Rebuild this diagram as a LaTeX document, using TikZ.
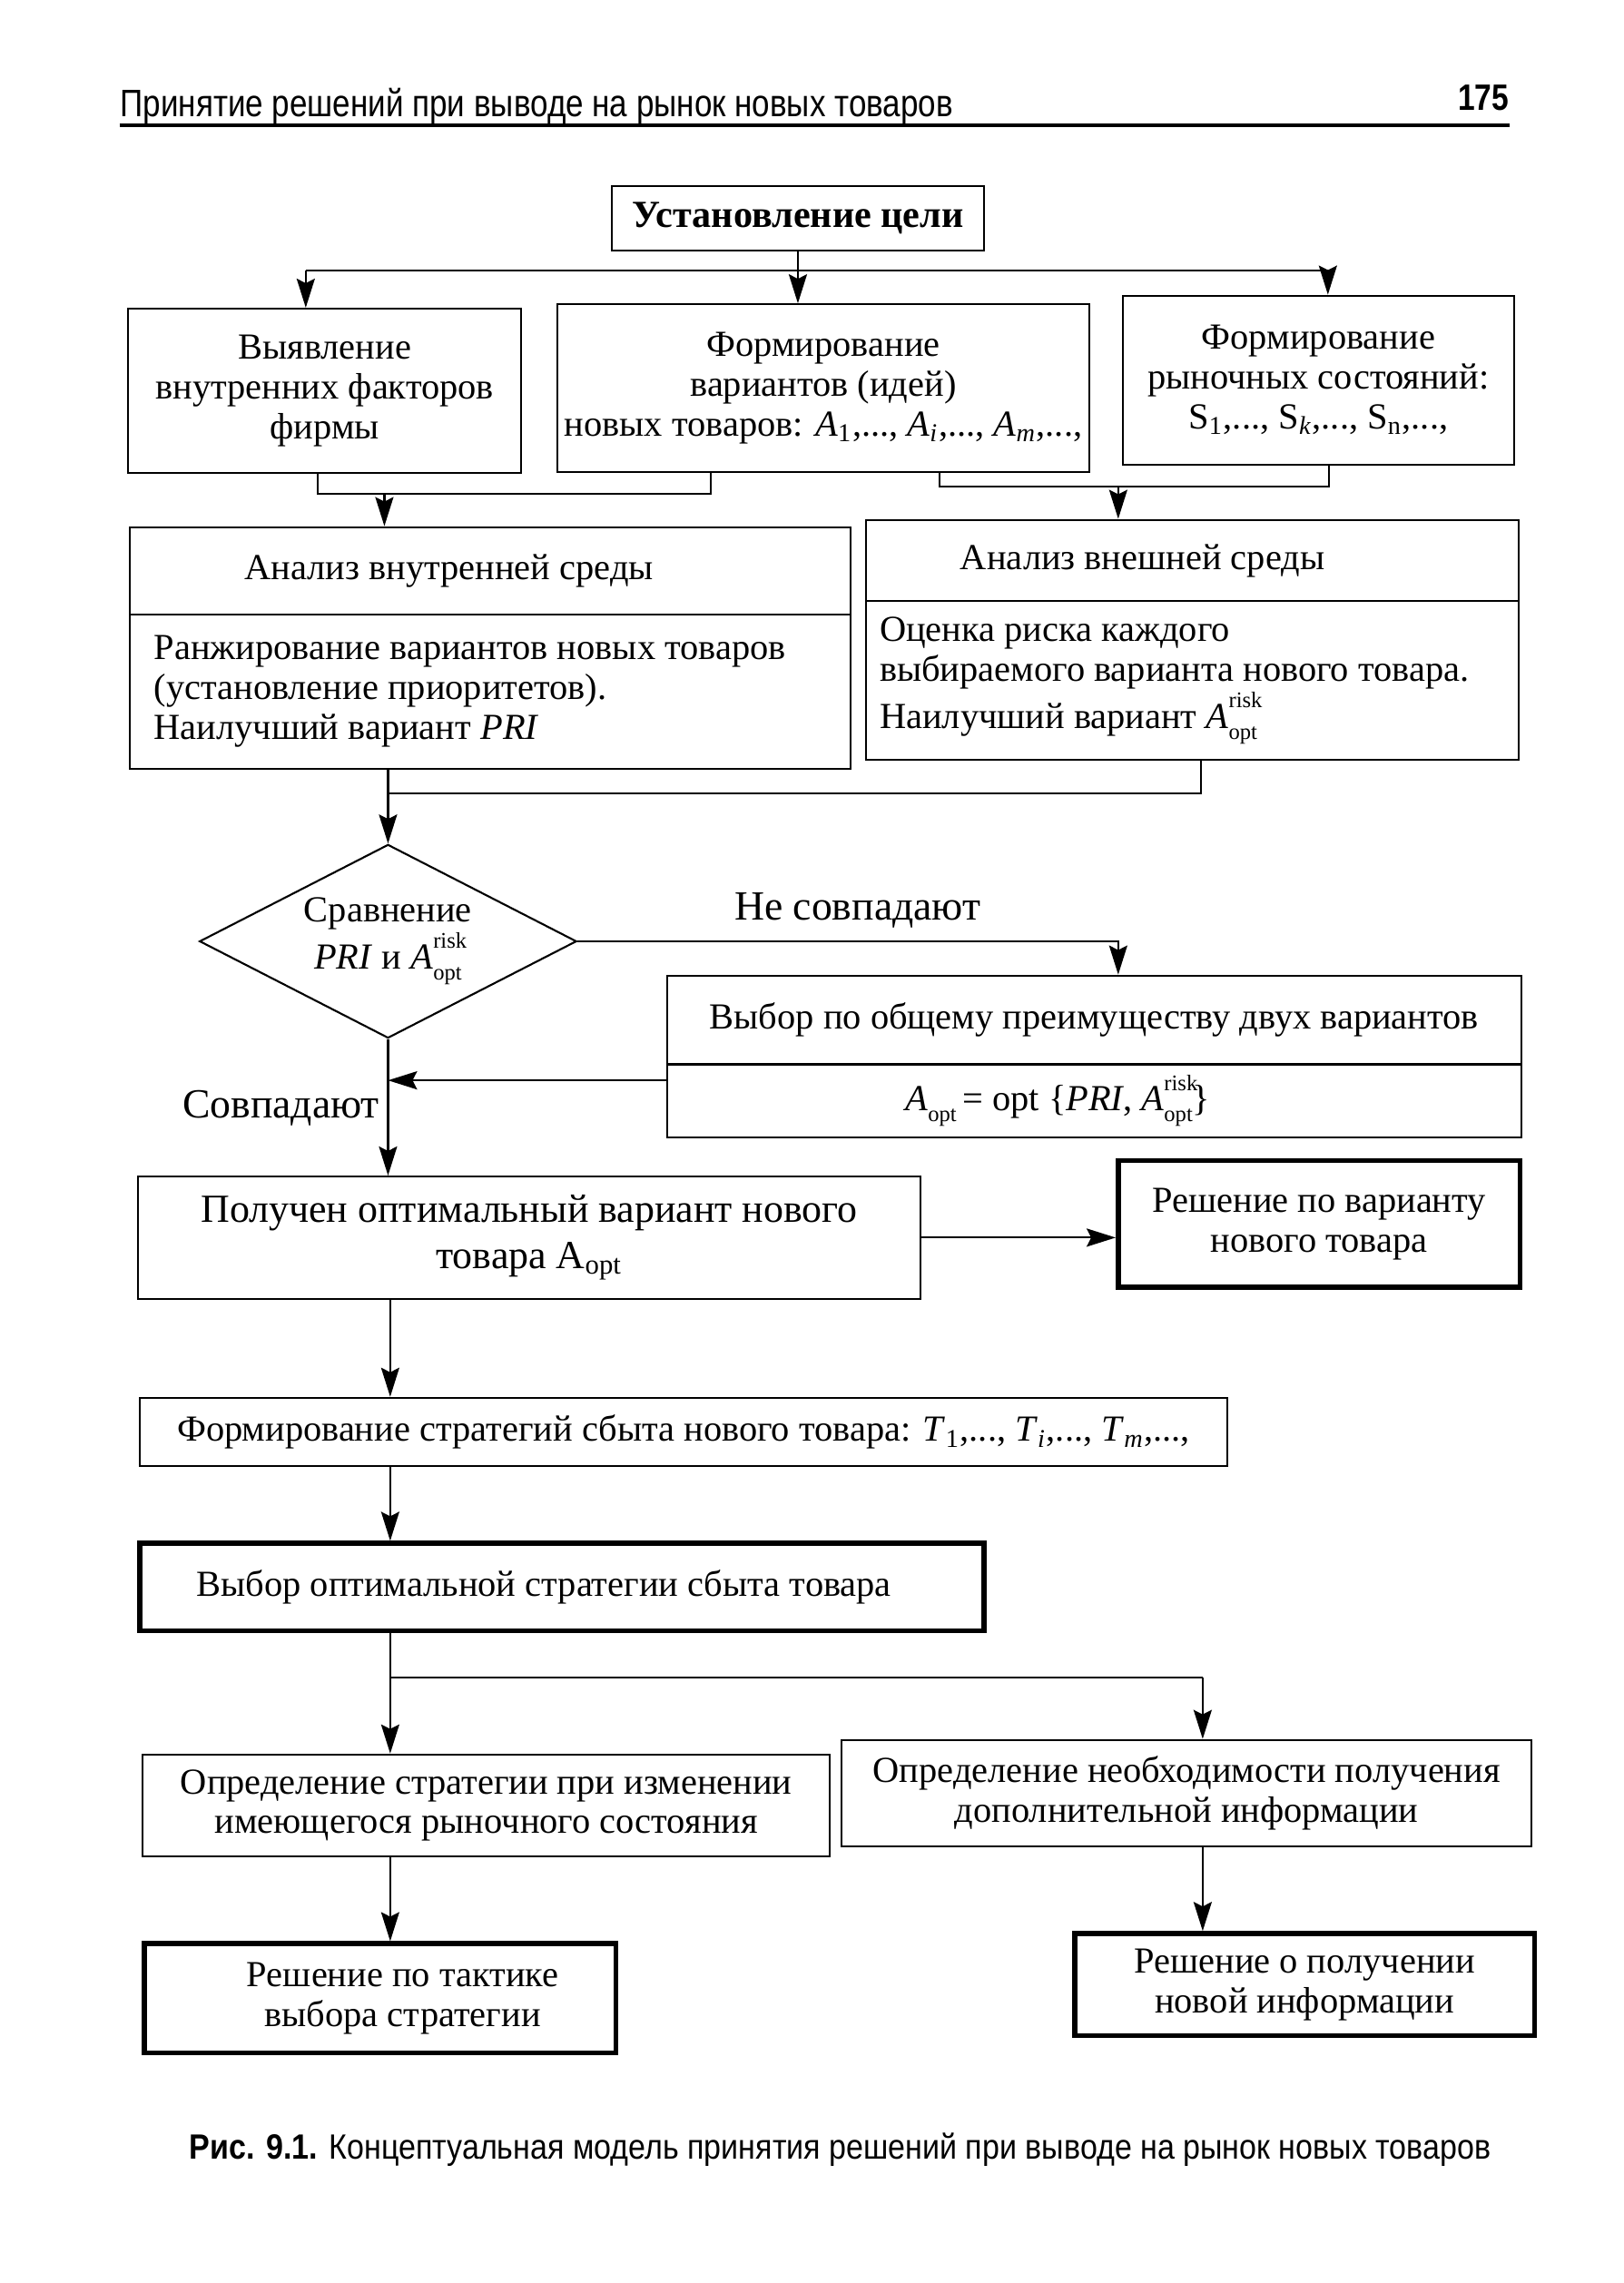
\documentclass[tikz,border=0pt]{standalone}
\usepackage{fontspec}
\setmainfont{Liberation Serif}
\newfontfamily\headfont[FakeStretch=0.83]{Liberation Sans}
\newfontfamily\capfont[FakeStretch=0.88]{Liberation Sans}
\usetikzlibrary{arrows.meta,shapes.geometric}

\newcommand\Arisk{\textit{A}\rlap{\raisebox{0.56em}{\scriptsize risk}}\raisebox{-0.3em}{\scriptsize opt}}

\begin{document}
\begin{tikzpicture}[x=0.016036cm, y=-0.016036cm, semithick,
  box/.style={draw, align=center, inner sep=2pt, font=\fontsize{11.5}{12.5}\selectfont},
  bbox/.style={box, line width=1.6pt},
  arr/.style={-{Stealth[length=3.2mm,width=2mm,inset=0.5mm]}}]
  \useasboundingbox (0,0) rectangle (1115,1568);

  \node[anchor=base west, inner sep=0, font=\headfont\fontsize{12}{14}\selectfont] (head) at (82,80) {Принятие решений при выводе на рынок новых товаров};
  \node[anchor=base east, inner sep=0, font=\headfont\bfseries\fontsize{11.5}{12}\selectfont] (page) at (1037,76) {175};
  \coordinate (r1) at (82,86);
  \coordinate (r2) at (1037,86);
  \draw[line width=1pt] (r1) -- (r2);

  \node[box, minimum width=4.105cm, minimum height=0.706cm, font=\bfseries\fontsize{12}{14}\selectfont] (goal) at (548,150) {Установление цели};
  \node[box, minimum width=4.33cm, minimum height=1.812cm] (inner) at (223,268.5) {Выявление\\внутренних факторов\\фирмы};
  \node[box, minimum width=5.853cm, minimum height=1.844cm] (ideas) at (565.5,266.5) {Формирование\\вариантов (идей)\\новых товаров: \textit{A}\textsubscript{1},..., \textit{A}\textsubscript{\textit{i}},..., \textit{A}\textsubscript{\textit{m}},...,};
  \node[box, minimum width=4.314cm, minimum height=1.86cm] (states) at (905.5,261) {Формирование\\рыночных состояний:\\S\textsubscript{1},..., S\textsubscript{\textit{k}},..., S\textsubscript{n},...,};

  \node[box, minimum width=7.938cm, minimum height=0.962cm] (intT) at (336.5,392) {Анализ внутренней среды\hspace*{0.9cm}};
  \node[box, minimum width=7.938cm, minimum height=1.7cm, text width=7.4cm, align=flush left] (intB) at (336.5,475) {Ранжирование вариантов новых товаров\\(установление приоритетов).\\Наилучший вариант \textit{PRI}};
  \node[box, minimum width=7.184cm, minimum height=0.898cm] (extT) at (819,385) {Анализ внешней среды\hspace*{1.1cm}};
  \node[box, minimum width=7.184cm, minimum height=1.748cm, text width=6.89cm, align=flush left] (extB) at (819,467.5) {Оценка риска каждого\\выбираемого варианта нового товара.\\Наилучший вариант \Arisk};

  \node[draw, diamond, aspect=1.95, inner sep=0, minimum width=4.153cm, minimum height=2.133cm, align=center, font=\fontsize{11.5}{12.5}\selectfont] (cmp) at (266.5,646.5) {Сравнение\\\textit{PRI} и \Arisk};

  \node[box, minimum width=9.413cm, minimum height=0.978cm] (choT) at (751.5,700.5) {Выбор по общему преимуществу двух вариантов};
  \node[box, minimum width=9.413cm, minimum height=0.802cm] (choB) at (751.5,756) {\textit{A}\raisebox{-0.3em}{\scriptsize opt}\,= opt \{\textit{PRI}, \Arisk\}\hspace*{0.8cm}};

  \node[box, minimum width=8.611cm, minimum height=1.347cm, font=\fontsize{12.5}{14.5}\selectfont] (best) at (363.5,850) {Получен оптимальный вариант нового\\товара A\textsubscript{opt}};
  \node[bbox, minimum width=4.426cm, minimum height=1.395cm] (dec1) at (906,840.5) {Решение по варианту\\нового товара};
  \node[box, minimum width=11.979cm, minimum height=0.754cm] (strat) at (469.5,983.5) {Формирование стратегий сбыта нового товара: \textit{T}\textsubscript{1},..., \textit{T}\textsubscript{\textit{i}},..., \textit{T}\textsubscript{\textit{m}},...,};
  \node[bbox, minimum width=9.301cm, minimum height=0.962cm, text width=8.05cm, align=flush left] (optS) at (386,1090) {Выбор оптимальной стратегии сбыта товара};
  \node[box, minimum width=7.569cm, minimum height=1.123cm] (chg) at (334,1240) {Определение стратегии при изменении\\имеющегося рыночного состояния};
  \node[box, minimum width=7.601cm, minimum height=1.171cm] (info) at (815,1231.5) {Определение необходимости получения\\дополнительной информации};
  \node[bbox, minimum width=5.196cm, minimum height=1.203cm] (tact) at (261,1372.5) {\hspace*{0.5cm}Решение по тактике\\\hspace*{0.5cm}выбора стратегии};
  \node[bbox, minimum width=5.067cm, minimum height=1.123cm] (newi) at (896,1363) {Решение о получении\\новой информации};

  \node[anchor=base, inner sep=0, font=\capfont\fontsize{11}{12}\selectfont] (cap) at (577,1483) {\textbf{Рис. 9.1.} Концептуальная модель принятия решений при выводе на рынок новых товаров};

  \coordinate (t1) at (210,186);
  \coordinate (t2) at (912,186);
  \draw (t1) -- (t2);
  \draw[arr] (goal.south) -- (goal.south |- ideas.north);
  \draw[arr] (t1) -- (t1 |- inner.north);
  \draw[arr] (t2) -- (t2 |- states.north);

  \coordinate (m1) at (218,339);
  \coordinate (m2) at (488,339);
  \coordinate (m3) at (264,339);
  \draw (m1 |- inner.south) -- (m1) -- (m2) -- (m2 |- ideas.south);
  \draw[arr] (m3) -- (m3 |- intT.north);
  \coordinate (n1) at (645,334);
  \coordinate (n2) at (913,334);
  \coordinate (n3) at (768,334);
  \draw (n1 |- ideas.south) -- (n1) -- (n2) -- (n2 |- states.south);
  \draw[arr] (n3) -- (n3 |- extT.north);

  \coordinate (k1) at (266.5,545);
  \coordinate (k2) at (825,545);
  \draw (k2 |- extB.south) -- (k2) -- (k1);
  \draw[arr] (k1 |- intB.south) -- (cmp.north);

  \coordinate (d1) at (768,646.5);
  \draw[arr] (cmp.east) -- (d1) -- (d1 |- choT.north);
  \node[anchor=base, font=\fontsize{13}{15}\selectfont] (no) at (589,632) {Не совпадают};
  \coordinate (d2) at (458,742);
  \draw[arr] (d2) -- (d2 -| cmp.south);
  \draw[arr] (cmp.south) -- (cmp.south |- best.north);
  \node[font=\fontsize{13}{15}\selectfont] (yes) at (193,761) {Совпадают};
  \draw[arr] (best.east) -- (best.east -| dec1.west);

  \coordinate (ax) at (268,1152);
  \coordinate (s) at (826,1152);
  \draw[arr] (ax |- best.south) -- (ax |- strat.north);
  \draw[arr] (ax |- strat.south) -- (ax |- optS.north);
  \draw (ax |- optS.south) -- (ax) -- (s);
  \draw[arr] (ax) -- (ax |- chg.north);
  \draw[arr] (s) -- (s |- info.north);
  \draw[arr] (ax |- chg.south) -- (ax |- tact.north);
  \draw[arr] (s |- info.south) -- (s |- newi.north);
\end{tikzpicture}
\end{document}
